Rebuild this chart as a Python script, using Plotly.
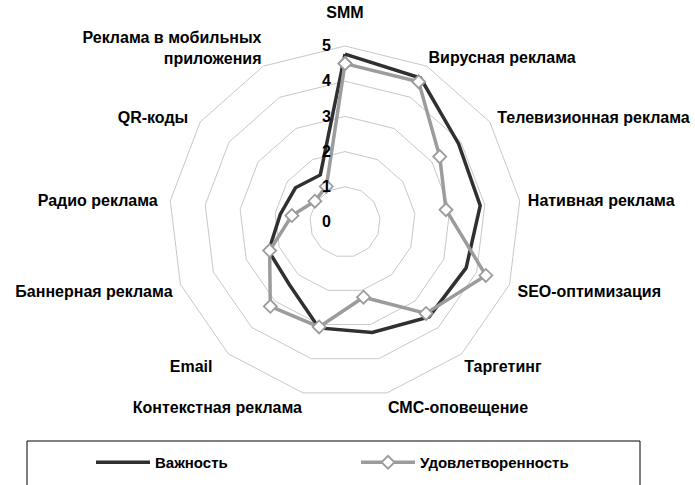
import plotly.graph_objects as go

NB = "\u00a0"
categories = ["SMM", "Вирусная реклама", "Телевизионная реклама", "Нативная реклама",
              "SEO-оптимизация", "Таргетинг", "СМС-оповещение", "Контекстная реклама",
              "Email", "Баннерная реклама", "Радио реклама", "QR-коды",
              "Реклама в мобильных приложения"]
tick_labels = ["SMM<br>" + NB, "Вирусная реклама",
               NB + "Телевизионная реклама", NB + "Нативная реклама",
               NB + "SEO-оптимизация", "Таргетинг", "СМС-оповещение", "Контекстная реклама",
               "Email" + NB * 3, "Баннерная реклама" + NB, "Радио реклама" + NB * 2, "QR-коды" + NB * 2,
               "Реклама в мобильных<br>приложения"]
importance = [4.77, 4.62, 3.92, 3.87, 3.68, 3.6, 3.23, 3.1, 2.38, 2.32, 1.85, 1.71, 1.51]
satisfaction = [4.5, 4.5, 3.27, 2.89, 4.28, 3.47, 2.2, 3.07, 3.2, 2.29, 1.52, 1.04, 1.14]
radial_ticks = [0, 1, 2, 3, 4, 5]

FONT = "Liberation Sans, Arial, sans-serif"

fig = go.Figure()
fig.add_trace(go.Scatterpolar(
    r=importance + importance[:1], theta=categories + categories[:1],
    mode="lines", name="Важность",
    line=dict(color="#303030", width=3.5)))
fig.add_trace(go.Scatterpolar(
    r=satisfaction + satisfaction[:1], theta=categories + categories[:1],
    mode="lines+markers", name="Удовлетворенность",
    line=dict(color="#9c9c9c", width=3.5),
    marker=dict(symbol="diamond", size=10, color="white",
                line=dict(color="#9c9c9c", width=1.8))))

fig.update_layout(
    width=695, height=485,
    margin=dict(l=0, r=0, t=0, b=0, autoexpand=False),
    paper_bgcolor="white", plot_bgcolor="white",
    font=dict(family=FONT, size=16, color="black"),
    polar=dict(
        domain=dict(x=[169/695, 521/695], y=[87/485, 439/485]),
        bgcolor="white",
        gridshape="linear",
        radialaxis=dict(range=[0, 5], tickvals=radial_ticks, angle=90,
                        tickangle=90, side="counterclockwise",
                        showline=False, ticks="outside", ticklen=8,
                        tickcolor="rgba(0,0,0,0)",
                        gridcolor="#c8c8c8", gridwidth=1,
                        tickfont=dict(family=FONT, size=16, weight="bold", color="black")),
        angularaxis=dict(rotation=90, direction="clockwise",
                         tickvals=categories, ticktext=tick_labels,
                         showgrid=False, showline=True, linecolor="#c8c8c8", linewidth=1,
                         ticks="",
                         tickfont=dict(family=FONT, size=16, weight="bold", color="black")),
    ),
    showlegend=True,
    legend=dict(orientation="h", x=91/695, xanchor="left", y=(485-446)/485, yanchor="top",
                itemwidth=54, entrywidth=196, entrywidthmode="pixels",
                font=dict(family=FONT, size=15, weight="bold", color="black"),
                bgcolor="rgba(0,0,0,0)"),
    shapes=[dict(type="rect", xref="paper", yref="paper",
                 x0=27/695, x1=640/695, y0=-0.05, y1=(485-441)/485,
                 line=dict(color="#000000", width=1), fillcolor="rgba(0,0,0,0)")],
)

fig.write_html("out.html", config={"displayModeBar": False},
               post_script="document.body.style.margin='0';")
